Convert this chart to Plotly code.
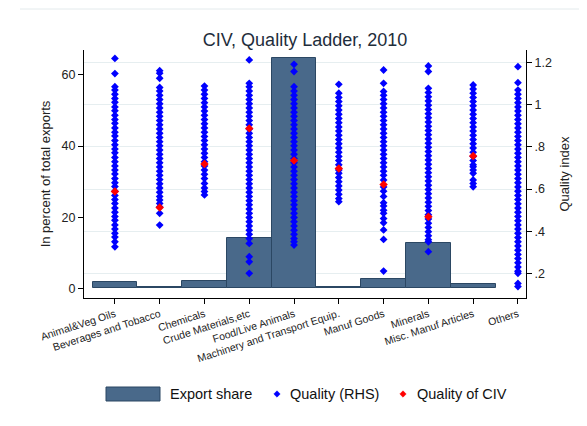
import plotly.graph_objects as go

categories = ["Animal&Veg Oils", "Beverages and Tobacco", "Chemicals", "Crude Materials,etc",
              "Food/Live Animals", "Machinery and Transport Equip.", "Manuf Goods", "Minerals",
              "Misc. Manuf Articles", "Others"]

# Export share (% of total exports), bars on left axis (no bar for Others)
export_share = [1.7, 0.4, 2.0, 14.2, 64.7, 0.45, 2.5, 12.8, 1.1]

# Quality index of individual products (right axis)
q_animal = [1.22, 1.148, 1.086, 1.07, 1.05, 1.03, 1.012, 0.99, 0.972, 0.95, 0.93, 0.912, 0.89, 0.87,
            0.852, 0.83, 0.81, 0.79, 0.772, 0.75, 0.73, 0.71, 0.69, 0.672, 0.65, 0.63, 0.612, 0.59,
            0.57, 0.55, 0.532, 0.51, 0.49, 0.47, 0.452, 0.43, 0.41, 0.39, 0.372, 0.35, 0.326]
q_bever = [1.162, 1.15, 1.126, 1.082, 1.065, 1.045, 1.025, 1.005, 0.985, 0.965, 0.945, 0.925, 0.905,
           0.885, 0.865, 0.845, 0.825, 0.805, 0.785, 0.765, 0.745, 0.725, 0.705, 0.685, 0.665, 0.645,
           0.625, 0.605, 0.585, 0.565, 0.548, 0.532, 0.515, 0.485, 0.429]
q_chem = [1.089, 1.07, 1.05, 1.03, 1.01, 0.99, 0.97, 0.95, 0.93, 0.91, 0.89, 0.87, 0.85, 0.83, 0.81,
          0.79, 0.77, 0.75, 0.73, 0.71, 0.69, 0.67, 0.65, 0.627, 0.605, 0.588, 0.572]
q_crude = [1.213, 1.102, 1.085, 1.065, 1.045, 1.025, 1.005, 0.985, 0.965, 0.945, 0.925, 0.905, 0.885,
           0.865, 0.845, 0.825, 0.805, 0.785, 0.765, 0.745, 0.725, 0.705, 0.685, 0.665, 0.645, 0.625,
           0.605, 0.585, 0.565, 0.545, 0.525, 0.505, 0.485, 0.465, 0.445, 0.425, 0.405, 0.385, 0.365,
           0.342, 0.279, 0.255, 0.2]
q_food = [1.192, 1.158, 1.086, 1.065, 1.045, 1.025, 1.005, 0.985, 0.965, 0.945, 0.925, 0.905, 0.885,
          0.865, 0.845, 0.825, 0.805, 0.785, 0.765, 0.745, 0.725, 0.705, 0.685, 0.665, 0.645, 0.625,
          0.605, 0.585, 0.565, 0.545, 0.525, 0.505, 0.485, 0.465, 0.445, 0.425, 0.405, 0.385, 0.365,
          0.35, 0.334]
q_mach = [1.097, 1.055, 1.035, 1.015, 0.995, 0.975, 0.955, 0.935, 0.915, 0.895, 0.875, 0.855, 0.835,
          0.815, 0.795, 0.775, 0.755, 0.735, 0.715, 0.69, 0.675, 0.655, 0.635, 0.615, 0.595, 0.575,
          0.555, 0.54]
q_manuf = [1.165, 1.102, 1.063, 1.045, 1.025, 1.005, 0.985, 0.965, 0.945, 0.925, 0.905, 0.885, 0.865,
           0.845, 0.825, 0.805, 0.785, 0.765, 0.745, 0.725, 0.705, 0.685, 0.665, 0.643, 0.61, 0.59,
           0.565, 0.535, 0.52, 0.5, 0.485, 0.46, 0.44, 0.406, 0.361, 0.211]
q_miner = [1.184, 1.158, 1.078, 1.058, 1.038, 1.018, 0.998, 0.978, 0.958, 0.938, 0.918, 0.898, 0.878,
           0.858, 0.838, 0.818, 0.798, 0.778, 0.758, 0.738, 0.718, 0.698, 0.678, 0.658, 0.638, 0.618,
           0.598, 0.578, 0.558, 0.538, 0.518, 0.498, 0.478, 0.458, 0.438, 0.418, 0.398, 0.378, 0.36,
           0.35, 0.303]
q_misc = [1.094, 1.075, 1.055, 1.035, 1.015, 0.995, 0.975, 0.955, 0.935, 0.915, 0.895, 0.875, 0.855,
          0.835, 0.815, 0.795, 0.775, 0.755, 0.735, 0.715, 0.706, 0.69, 0.675, 0.643, 0.627, 0.611]
q_other = [1.181, 1.105, 1.07, 1.05, 1.03, 1.01, 0.99, 0.97, 0.95, 0.93, 0.91, 0.89, 0.87, 0.85, 0.83,
           0.81, 0.79, 0.77, 0.75, 0.73, 0.71, 0.69, 0.67, 0.65, 0.63, 0.61, 0.59, 0.57, 0.55, 0.53,
           0.51, 0.49, 0.47, 0.45, 0.43, 0.41, 0.39, 0.37, 0.35, 0.33, 0.31, 0.29, 0.27, 0.25, 0.23,
           0.21, 0.2, 0.152, 0.137]
quality_lists = [q_animal, q_bever, q_chem, q_crude, q_food, q_mach, q_manuf, q_miner, q_misc, q_other]

# Quality of CIV (right axis), none for Others
civ_quality = [0.588, 0.513, 0.719, 0.888, 0.735, 0.698, 0.622, 0.469, 0.757]

left_ticks = [0, 20, 40, 60]
right_ticks = [0.2, 0.4, 0.6, 0.8, 1.0, 1.2]
right_ticklabels = [".2", ".4", ".6", ".8", "1", "1.2"]

BAR = "#49698A"
BAR_LINE = "#2B4763"
FONT = "Liberation Sans, Arial, sans-serif"

# The HTML body has an 8px default margin: work in page pixels and shift by it.
OFF = 8
W, H = 587 - 2 * OFF, 426 - 2 * OFF
PL, PR, PT, PB = 84 - OFF, 526 - OFF, 50 - OFF, 298 - OFF

qx, qy = [], []
for cat, vals in zip(categories, quality_lists):
    qx += [cat] * len(vals)
    qy += vals

fig = go.Figure()
fig.add_trace(go.Bar(x=categories[:9], y=export_share, width=1,
                     marker=dict(color=BAR, line=dict(color=BAR_LINE, width=1)),
                     name="Export share", showlegend=False))
fig.add_trace(go.Scatter(x=qx, y=qy, yaxis="y2", mode="markers",
                         marker=dict(symbol="diamond", size=6, color="#0000FF"),
                         name="Quality (RHS)", showlegend=False))
fig.add_trace(go.Scatter(x=categories[:9], y=civ_quality, yaxis="y2", mode="markers",
                         marker=dict(symbol="diamond", size=6.5, color="#FF0000"),
                         name="Quality of CIV", showlegend=False))

# page-pixel -> paper coordinates
def px(x):
    return (x - OFF - PL) / (PR - PL)

def py(y):
    return (PB - (y - OFF)) / (PB - PT)

shapes = [
    dict(type="line", xref="paper", yref="paper", x0=px(20), x1=px(587), y0=py(9), y1=py(9),
         line=dict(color="#e3eaec", width=1)),
    dict(type="rect", xref="paper", yref="paper", x0=px(106), x1=px(160), y0=py(401), y1=py(387),
         fillcolor=BAR, line=dict(color=BAR_LINE, width=1)),
]

def diamond(cx, cy, color, r=3.2):
    return dict(type="path", xref="paper", yref="paper",
                path=f"M {px(cx)},{py(cy - r)} L {px(cx + r)},{py(cy)} L {px(cx)},{py(cy + r)} L {px(cx - r)},{py(cy)} Z",
                fillcolor=color, line=dict(color=color, width=0.5))

shapes.append(diamond(277, 394, "#0000FF"))
shapes.append(diamond(403, 394, "#FF0000"))

annotations = [
    dict(text="Export share", x=px(168), y=py(394), xref="paper", yref="paper", xanchor="left",
         yanchor="middle", showarrow=False, font=dict(size=14.5, color="#111", family=FONT)),
    dict(text="Quality (RHS)", x=px(288), y=py(394), xref="paper", yref="paper", xanchor="left",
         yanchor="middle", showarrow=False, font=dict(size=14.5, color="#111", family=FONT)),
    dict(text="Quality of CIV", x=px(415), y=py(394), xref="paper", yref="paper", xanchor="left",
         yanchor="middle", showarrow=False, font=dict(size=14.5, color="#111", family=FONT)),
]

fig.update_layout(
    width=W, height=H,
    margin=dict(l=PL, r=W - PR, t=PT, b=H - PB, autoexpand=False),
    paper_bgcolor="white", plot_bgcolor="white",
    font=dict(family=FONT, color="#111"),
    title=dict(text="CIV, Quality Ladder, 2010", x=(PL + PR) / 2 / W, xanchor="center",
               y=1 - (40 - OFF) / H, yanchor="middle", yref="container",
               font=dict(size=18, color="#1e2d3b", family=FONT)),
    bargap=0,
    showlegend=False,
    xaxis=dict(type="category", categoryorder="array", categoryarray=categories, automargin=False,
               range=[-0.69, 9.18], tickangle=-18, ticks="outside", ticklen=5,
               tickcolor="#000", showline=True, linecolor="#000", linewidth=1, mirror=False,
               showgrid=False, tickfont=dict(size=10.5, color="#222", family=FONT)),
    yaxis=dict(range=[-2.73, 67.03], tickvals=left_ticks, ticks="outside", ticklen=5, automargin=False,
               tickcolor="#000", showline=True, linecolor="#000", linewidth=1, showgrid=False,
               zeroline=False, tickfont=dict(size=12.5, color="#222", family=FONT),
               title=dict(text="In percent of total exports", font=dict(size=13, color="#222"),
                          standoff=8)),
    yaxis2=dict(overlaying="y", side="right", range=[0.083, 1.26], tickvals=right_ticks, automargin=False,
                ticktext=right_ticklabels, ticks="outside", ticklen=5, tickcolor="#000",
                showline=True, linecolor="#000", linewidth=1, showgrid=True,
                gridcolor="#e6eef0", gridwidth=1, zeroline=False,
                tickfont=dict(size=12.5, color="#222", family=FONT),
                title=dict(text="Quality index", font=dict(size=13, color="#222"), standoff=8)),
    shapes=shapes,
    annotations=annotations,
)

fig.write_html("out.html")
